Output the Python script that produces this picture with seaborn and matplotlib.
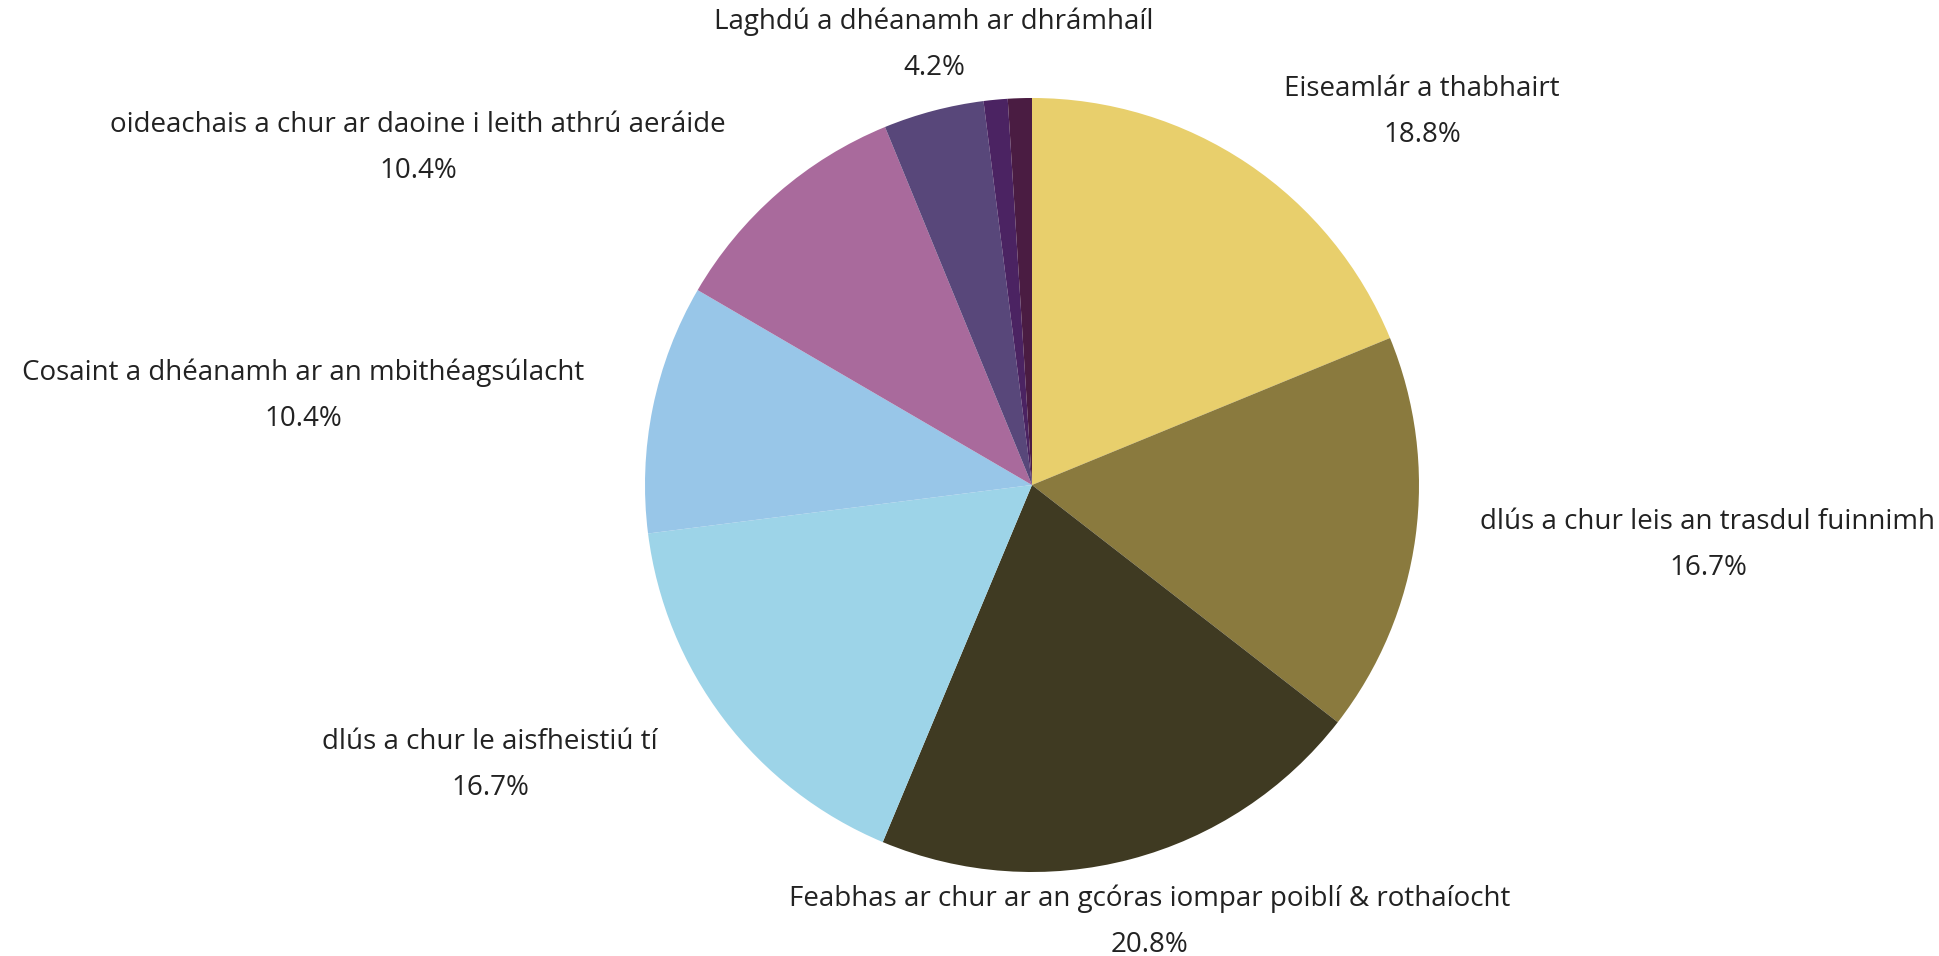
import matplotlib.pyplot as plt
import seaborn as sns

# Data (clockwise from 12 o'clock)
labels = ['Eiseamlár a thabhairt',
          'dlús a chur leis an trasdul fuinnimh',
          'Feabhas ar chur ar an gcóras iompar poiblí & rothaíocht',
          'dlús a chur le aisfheistiú tí',
          'Cosaint a dhéanamh ar an mbithéagsúlacht',
          'oideachais a chur ar daoine i leith athrú aeráide',
          'Laghdú a dhéanamh ar dhrámhaíl',
          '',
          '']
shares = [18.8, 16.7, 20.8, 16.7, 10.4, 10.4, 4.2, 1.0, 1.0]
colors = ['#E8CF6C', '#8A7A3E', '#3F3A22', '#9DD4E8', '#98C6E8',
          '#A96A9C', '#58477A', '#4B2362', '#4A1C42']

# label anchor points (pixels, top-left origin)
label_pos = [(1422, 89), (1708, 522), (1150, 899), (490, 742), (303, 373),
             (418, 125), (934, 22), None, None]

sns.set_theme(style='white')
plt.rcParams['font.family'] = ['Open Sans', 'DejaVu Sans']

fig = plt.figure(figsize=(19.39, 9.56), dpi=100)
ax = fig.add_axes([0, 0, 1, 1])

ax.pie(shares, colors=colors, startangle=-90, counterclock=True,
       center=(1032, 485), radius=387, wedgeprops={'linewidth': 0})

ax.set_xlim(0, 1939)
ax.set_ylim(956, 0)
ax.set_aspect('equal')
ax.axis('off')

for lab, val, pos in zip(labels, shares, label_pos):
    if pos is None:
        continue
    x, y = pos
    ax.text(x, y, lab, ha='center', va='center', fontsize=20, color='#222222')
    ax.text(x, y + 46, f'{val:.1f}%', ha='center', va='center', fontsize=20, color='#222222')

plt.savefig('out.png', dpi=100)
plt.close()
